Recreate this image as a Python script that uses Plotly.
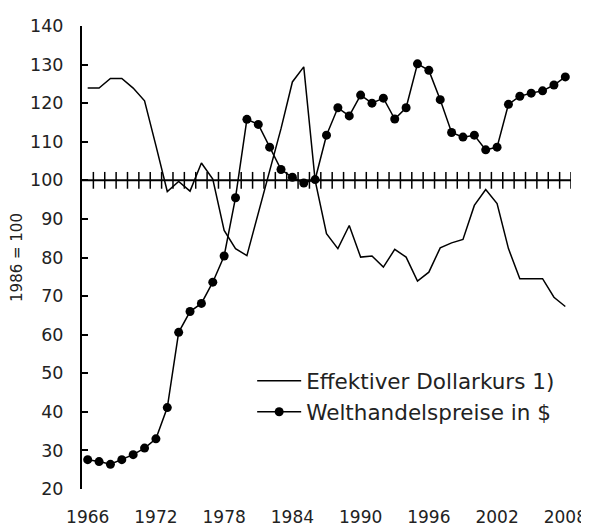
import plotly.graph_objects as go

years = list(range(1966, 2009))

dollarkurs = [123.9, 123.9, 126.4, 126.4, 123.9, 120.6, 109.0, 97.1, 99.7, 97.2,
              104.5, 100.3, 87.0, 82.3, 80.5, 91.5, 102.5, 113.4, 125.5, 129.4,
              100.0, 86.2, 82.3, 88.3, 80.1, 80.4, 77.5, 82.1, 80.1, 73.9,
              76.2, 82.5, 83.8, 84.7, 93.5, 97.6, 94.0, 82.3, 74.5, 74.5,
              74.5, 69.7, 67.3]

welthandel = [27.6, 27.1, 26.4, 27.6, 28.9, 30.6, 33.0, 41.1, 60.6, 66.0,
              68.1, 73.6, 80.4, 95.5, 115.8, 114.5, 108.6, 102.8, 100.8, 99.3,
              100.2, 111.7, 118.8, 116.7, 122.1, 120.0, 121.3, 115.9, 118.8, 130.2,
              128.5, 120.9, 112.4, 111.2, 111.7, 107.9, 108.6, 119.7, 121.8, 122.6,
              123.2, 124.7, 126.8]

x_tick_labels = [str(y) for y in range(1966, 2009, 6)]
base_value = 100

FONT = "DejaVu Sans"
fig = go.Figure()

# category-boundary tick marks on the 100-line
fig.add_trace(go.Scatter(
    x=[y + 0.5 for y in years], y=[base_value] * len(years),
    mode="markers", marker=dict(symbol="line-ns", size=12,
                                line=dict(color="black", width=1.5)),
    showlegend=False, hoverinfo="skip"))

fig.add_trace(go.Scatter(
    x=years, y=dollarkurs, mode="lines", name="Effektiver Dollarkurs 1)",
    line=dict(color="black", width=1.5)))
fig.add_trace(go.Scatter(
    x=years, y=welthandel, mode="lines+markers", name="Welthandelspreise in $",
    line=dict(color="black", width=1.5),
    marker=dict(color="black", size=9)))

fig.add_shape(type="line", xref="paper", x0=0, x1=1, yref="y",
              y0=base_value, y1=base_value, line=dict(color="black", width=2))

# page has an 8px body margin; plot area kept at page x 82..571, y 26..489
fig.update_layout(
    width=600, height=521,
    margin=dict(l=74, r=37, t=18, b=40),
    paper_bgcolor="white", plot_bgcolor="white",
    font=dict(family=FONT, size=17.5, color="#222222"),
    showlegend=True,
    legend=dict(x=0.348, y=0.278, xanchor="left", yanchor="top",
                bgcolor="rgba(0,0,0,0)", font=dict(size=21.5),
                itemwidth=44, tracegroupgap=0),
    xaxis=dict(range=[1965.5, 2008.5], tickvals=[int(t) for t in x_tick_labels],
               ticktext=x_tick_labels, showline=False, showgrid=False,
               zeroline=False, ticks="", ticklabelstandoff=16, automargin=False,
               ticklabeloverflow="allow", tickfont=dict(size=17)),
    yaxis=dict(range=[20, 140], dtick=10, tick0=20, showgrid=False,
               zeroline=False, showline=True, linecolor="black", linewidth=2,
               ticks="inside", ticklen=6, tickwidth=2, tickcolor="black",
               automargin=False, ticklabelstandoff=13,
               title=dict(text="1986 = 100", standoff=5, font=dict(size=15))),
)

fig.write_html("out.html")
